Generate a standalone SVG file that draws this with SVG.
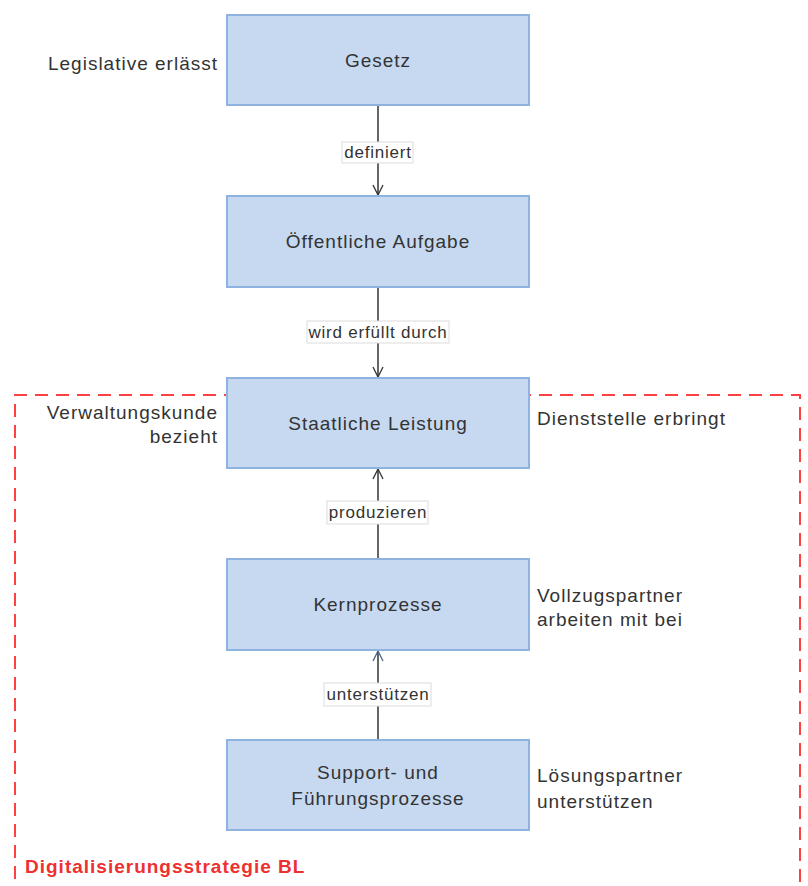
<svg xmlns="http://www.w3.org/2000/svg" width="808" height="886" viewBox="0 0 808 886">
<defs>
<marker id="arr" viewBox="0 0 12 12" refX="11" refY="6" markerWidth="12" markerHeight="12" markerUnits="userSpaceOnUse" orient="auto">
<path d="M1,1 L11,6 L1,11" fill="none" stroke="#333" stroke-width="1.3"/>
</marker>
<marker id="arrb" viewBox="0 0 12 12" refX="11" refY="6" markerWidth="12" markerHeight="12" markerUnits="userSpaceOnUse" orient="auto">
<path d="M1,1 L11,6 L1,11" fill="none" stroke="#4a6288" stroke-width="1.3"/>
</marker>
</defs>
<style>
.node{fill:#c6d9f1;stroke:#8fb3e0;stroke-width:2}
.t{font-family:"Liberation Sans",Arial,sans-serif;font-size:19px;fill:#333;letter-spacing:1px}
.c{text-anchor:middle}
.e{text-anchor:end}
.el{font-family:"Liberation Sans",Arial,sans-serif;font-size:17px;fill:#333;letter-spacing:0.8px;text-anchor:middle}
.lb{fill:#fff;stroke:#dcdcdc;stroke-width:1}
.conn{stroke:#333;stroke-width:1.5;fill:none}
</style>
<rect width="808" height="886" fill="#fff"/>
<g id="boundary">
<path d="M15,900 L15,395 L800,395 L800,900" fill="none" stroke="#ff4040" stroke-width="2" stroke-dasharray="13,8"/>
<text x="25" y="873" font-family="'Liberation Sans',Arial,sans-serif" font-size="19" font-weight="bold" fill="#ee3030" letter-spacing="1">Digitalisierungsstrategie BL</text>
</g>
<g id="connectors">
<line class="conn" x1="378" y1="105" x2="378" y2="195" marker-end="url(#arr)"/>
<line class="conn" x1="378" y1="287" x2="378" y2="377" marker-end="url(#arr)"/>
<line class="conn" x1="378" y1="559" x2="378" y2="469" marker-end="url(#arr)"/>
<line class="conn" x1="378" y1="740" x2="378" y2="651" stroke="#4a6288" marker-end="url(#arrb)"/>
<rect class="lb" x="342" y="142" width="71" height="21"/>
<text class="el" x="378" y="158">definiert</text>
<rect class="lb" x="307" y="321" width="142" height="22"/>
<text class="el" x="378" y="338">wird erfüllt durch</text>
<rect class="lb" x="327" y="501" width="101" height="23"/>
<text class="el" x="378" y="518">produzieren</text>
<rect class="lb" x="324" y="683" width="107" height="23"/>
<text class="el" x="378" y="700">unterstützen</text>
</g>
<g id="gesetz">
<rect class="node" x="227" y="15" width="302" height="90"/>
<text class="t c" x="378" y="67">Gesetz</text>
<text class="t e" x="218" y="70">Legislative erlässt</text>
</g>
<g id="aufgabe">
<rect class="node" x="227" y="196" width="302" height="91"/>
<text class="t c" x="378" y="248">Öffentliche Aufgabe</text>
</g>
<g id="leistung">
<rect class="node" x="227" y="378" width="302" height="90"/>
<text class="t c" x="378" y="430">Staatliche Leistung</text>
<text class="t e" x="218" y="419">Verwaltungskunde</text>
<text class="t e" x="218" y="443">bezieht</text>
<text class="t" x="537" y="425">Dienststelle erbringt</text>
</g>
<g id="kern">
<rect class="node" x="227" y="559" width="302" height="91"/>
<text class="t c" x="378" y="611">Kernprozesse</text>
<text class="t" x="537" y="602">Vollzugspartner</text>
<text class="t" x="537" y="626">arbeiten mit bei</text>
</g>
<g id="support">
<rect class="node" x="227" y="740" width="302" height="90"/>
<text class="t c" x="378" y="779">Support- und</text>
<text class="t c" x="378" y="805">Führungsprozesse</text>
<text class="t" x="537" y="782">Lösungspartner</text>
<text class="t" x="537" y="808">unterstützen</text>
</g>
</svg>
